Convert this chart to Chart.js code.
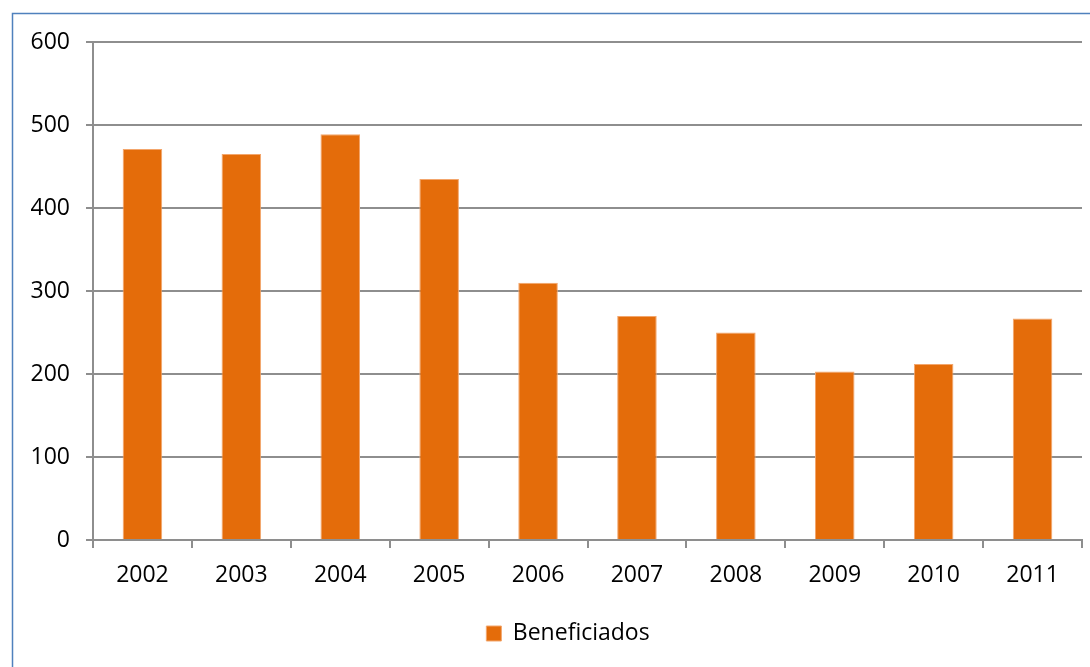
<!DOCTYPE html>
<html>
<head>
<meta charset="utf-8">
<script src="https://cdn.jsdelivr.net/npm/chart.js@4/dist/chart.umd.min.js"></script>
<style>
  html, body { margin: 0; padding: 0; background: #fff; }
  #wrap { width: 1090px; height: 667px; }
</style>
</head>
<body>
<div id="wrap"><canvas id="bars"></canvas></div>
<script>
document.addEventListener('DOMContentLoaded', init);

const years = ['2002', '2003', '2004', '2005', '2006', '2007', '2008', '2009', '2010', '2011'];
const beneficiados = [471, 465, 489, 435, 310, 270, 250, 203, 212, 267];
const yTicks = [0, 100, 200, 300, 400, 500, 600];

const gridGray = '#8e8e8e';

// outer frame round the whole chart object
const framePlugin = {
    id: 'frame',
    afterLayout(chart)
    {
        // legend sits a little right of the canvas centre
        const lg = chart.legend;
        if (lg) {
            lg.left += 27;
            lg.right += 27;
            lg.top += 2;
            lg.bottom += 2;
        }
    },
    afterDraw(chart)
    {
        const ctx = chart.ctx;
        ctx.save();
        ctx.strokeStyle = '#4f81bd';
        ctx.lineWidth = 1.5;
        ctx.strokeRect(12.5, 13.5, chart.width + 10, chart.height + 10);
        ctx.restore();
    }
};

function init()
{
    Chart.defaults.font.family = "'Open Sans', 'Liberation Sans', sans-serif";
    Chart.defaults.font.size = 23;
    Chart.defaults.color = '#000';

    const ctx = document.getElementById('bars').getContext('2d');
    new Chart(ctx,
    {
        type: 'bar',
        data: {
            labels: years,
            datasets: [{
                label: 'Beneficiados',
                data: beneficiados,
                backgroundColor: '#e46c0a',
                borderColor: '#f3a66c',
                borderWidth: 1,
                categoryPercentage: 1,
                barPercentage: 0.4
            }]
        },
        options: {
            responsive: true,
            maintainAspectRatio: false,
            animation: false,
            layout: {
                padding: { left: 0, top: 42, right: 8, bottom: 14 }
            },
            plugins: {
                tooltip: { enabled: false },
                legend: {
                    position: 'bottom',
                    labels: {
                        boxWidth: 15,
                        boxHeight: 15,
                        padding: 10
                    }
                }
            },
            scales: {
                x: {
                    offset: true,
                    grid: {
                        offset: true,
                        drawOnChartArea: false,
                        drawTicks: true,
                        tickLength: 8,
                        color: gridGray,
                        lineWidth: 2
                    },
                    border: { color: gridGray, width: 2 },
                    ticks: { padding: 14, maxRotation: 0 },
                    afterFit(scale) { scale.height = 70; }
                },
                y: {
                    min: 0,
                    max: 600,
                    afterBuildTicks(scale) { scale.ticks = yTicks.map(v => ({ value: v })); },
                    grid: {
                        color: gridGray,
                        lineWidth: 2,
                        tickLength: 7
                    },
                    border: { color: gridGray, width: 2 },
                    ticks: { padding: 16 },
                    afterFit(scale) { scale.width = 93; }
                }
            }
        },
        plugins: [framePlugin]
    });
}
</script>
</body>
</html>
